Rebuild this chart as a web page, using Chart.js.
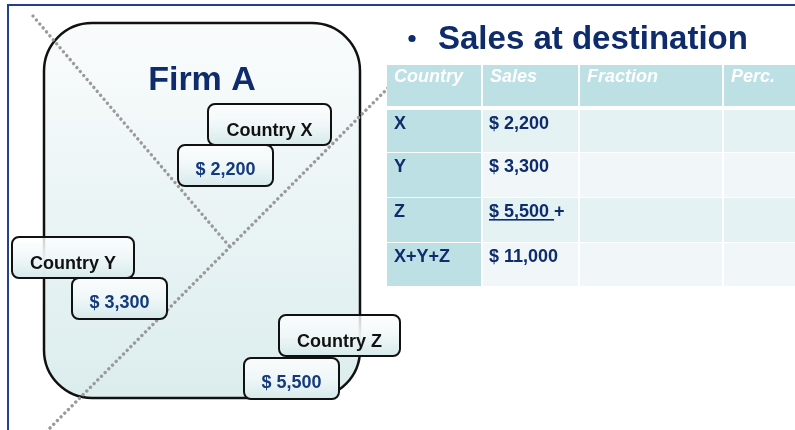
<!DOCTYPE html>
<html>
<head>
<meta charset="utf-8">
<script src="https://cdn.jsdelivr.net/npm/chart.js@4/dist/chart.umd.min.js"></script>
<style>
  html,body{margin:0;padding:0;background:#fff;}
  #wrap{width:795px;height:430px;position:relative;}
</style>
</head>
<body>
<div id="wrap"><canvas id="c"></canvas></div>
<script>
// ---- data ----
const countries = ['X', 'Y', 'Z'];
const countryLabels = ['Country X', 'Country Y', 'Country Z'];
const sales = [2200, 3300, 5500];
const totalLabel = 'X+Y+Z';
const totalSales = 11000;
const tableHeaders = ['Country', 'Sales', 'Fraction', 'Perc.'];
const firmName = 'Firm A';
const titleText = 'Sales at destination';

// ---- layout (positions, sizes, styles) ----
const layout = {
  frame: { left: 8, top: 5, color: '#22418C', width: 2 },
  firm: { x: 44, y: 23, w: 316, h: 375, r: 48 },
  firmText: { x: 202, y: 90 },
  dotted: [[33, 16, 230, 247], [388, 88, 46, 432]],
  nameBoxes: [[208, 104, 123, 41], [12, 237, 122, 41], [279, 315, 121, 41]],
  valueBoxes: [[178, 145, 95, 41], [72, 278, 95, 41], [244, 358, 95, 41]],
  title: { bulletX: 412, bulletY: 38.5, x: 438, y: 49 },
  tableCols: [387, 482, 579, 723, 800],
  tableRows: [[65, 107], [110, 153], [153, 198], [198, 243], [243, 287]]
};
const navy = '#0E2B6C';

const fmt = v => '$ ' + v.toLocaleString('en-US');

function rr(ctx, x, y, w, h, r) {
  ctx.beginPath();
  ctx.moveTo(x + r, y);
  ctx.lineTo(x + w - r, y);
  ctx.arcTo(x + w, y, x + w, y + r, r);
  ctx.lineTo(x + w, y + h - r);
  ctx.arcTo(x + w, y + h, x + w - r, y + h, r);
  ctx.lineTo(x + r, y + h);
  ctx.arcTo(x, y + h, x, y + h - r, r);
  ctx.lineTo(x, y + r);
  ctx.arcTo(x, y, x + r, y, r);
  ctx.closePath();
}

const diagramPlugin = {
  id: 'diagram',
  afterDraw(chart) {
    const ctx = chart.ctx;
    const xs = chart.scales.x, ys = chart.scales.y;
    const X = v => xs.getPixelForValue(v);
    const Y = v => ys.getPixelForValue(v);
    ctx.save();

    // frame
    const f = layout.frame;
    ctx.strokeStyle = f.color; ctx.lineWidth = f.width;
    ctx.beginPath();
    ctx.moveTo(X(f.left), Y(440)); ctx.lineTo(X(f.left), Y(f.top)); ctx.lineTo(X(800), Y(f.top));
    ctx.stroke();

    // firm box
    const fb = layout.firm;
    let g = ctx.createLinearGradient(0, Y(fb.y), 0, Y(fb.y + fb.h));
    g.addColorStop(0, '#FAFCFC'); g.addColorStop(0.5, '#EAF4F5'); g.addColorStop(1, '#DCEDEE');
    rr(ctx, X(fb.x), Y(fb.y), fb.w, fb.h, fb.r);
    ctx.fillStyle = g; ctx.fill();
    ctx.lineWidth = 2.5; ctx.strokeStyle = '#111'; ctx.stroke();

    // firm name
    ctx.fillStyle = navy;
    ctx.font = 'bold 34px "Liberation Sans", Arial, sans-serif';
    ctx.textAlign = 'center'; ctx.textBaseline = 'alphabetic';
    ctx.fillText(firmName, X(layout.firmText.x), Y(layout.firmText.y));

    // dotted lines
    ctx.strokeStyle = '#9A9A9A'; ctx.lineWidth = 3.4; ctx.lineCap = 'round';
    ctx.setLineDash([0.01, 5.2]);
    layout.dotted.forEach(d => {
      ctx.beginPath(); ctx.moveTo(X(d[0]), Y(d[1])); ctx.lineTo(X(d[2]), Y(d[3])); ctx.stroke();
    });
    ctx.setLineDash([]); ctx.lineCap = 'butt';

    // label boxes
    function box(b, text, color, baseOff) {
      const gg = ctx.createLinearGradient(0, Y(b[1]), 0, Y(b[1] + b[3]));
      gg.addColorStop(0, 'rgba(255,255,255,0.8)');
      gg.addColorStop(0.5, 'rgba(240,247,248,0.95)');
      gg.addColorStop(1, '#D6EAEB');
      rr(ctx, X(b[0]), Y(b[1]), b[2], b[3], 7);
      ctx.fillStyle = gg; ctx.fill();
      ctx.lineWidth = 2; ctx.strokeStyle = '#111'; ctx.stroke();
      ctx.fillStyle = color;
      ctx.font = 'bold 18px "Liberation Sans", Arial, sans-serif';
      ctx.textAlign = 'center';
      ctx.fillText(text, X(b[0] + b[2] / 2), Y(b[1] + baseOff));
    }
    countries.forEach((c, i) => {
      box(layout.nameBoxes[i], countryLabels[i], '#111', 32);
      box(layout.valueBoxes[i], fmt(sales[i]), '#143A7E', 30);
    });

    // title
    const t = layout.title;
    ctx.fillStyle = navy;
    ctx.beginPath(); ctx.arc(X(t.bulletX), Y(t.bulletY), 3.6, 0, Math.PI * 2); ctx.fill();
    ctx.font = 'bold 33px "Liberation Sans", Arial, sans-serif';
    ctx.textAlign = 'left';
    ctx.fillText(titleText, X(t.x), Y(t.y));

    // table
    const cols = layout.tableCols, rows = layout.tableRows;
    const bodyRows = countries.map((c, i) => [c, fmt(sales[i]), '', '']);
    bodyRows.push([totalLabel, fmt(totalSales), '', '']);
    rows.forEach((r, ri) => {
      for (let ci = 0; ci < 4; ci++) {
        let fill;
        if (ri === 0 || ci === 0) fill = '#BCE0E3';
        else fill = (ri % 2 === 1) ? '#E5F2F3' : '#F1F7F9';
        ctx.fillStyle = fill;
        const x0 = X(cols[ci]) + (ci > 0 ? 1 : 0), x1 = X(cols[ci + 1]) - 1;
        ctx.fillRect(x0, Y(r[0]), x1 - x0, Y(r[1]) - Y(r[0]) - 1);
      }
    });
    // header text
    ctx.font = 'italic bold 18px "Liberation Sans", Arial, sans-serif';
    ctx.fillStyle = '#FFFFFF';
    tableHeaders.forEach((h, ci) => {
      ctx.fillText(h, X(cols[ci] + (ci === 0 ? 7 : 8)), Y(rows[0][0] + 17));
    });
    // body text
    ctx.font = 'bold 18px "Liberation Sans", Arial, sans-serif';
    ctx.fillStyle = navy;
    bodyRows.forEach((row, i) => {
      const r = rows[i + 1];
      const by = Y(r[0] + 19);
      ctx.fillText(row[0], X(cols[0] + 7), by);
      const sx = X(cols[1] + 7);
      if (i === countries.length - 1) {
        const part = row[1] + ' ';
        ctx.fillText(part, sx, by);
        const w = ctx.measureText(part).width;
        ctx.fillRect(sx, by + 2, w, 1.6);
        ctx.fillText('+', sx + w, by);
      } else {
        ctx.fillText(row[1], sx, by);
      }
    });

    ctx.restore();
  }
};

new Chart(document.getElementById('c'), {
  type: 'scatter',
  data: { datasets: [{ data: [], pointRadius: 0 }] },
  options: {
    responsive: true,
    maintainAspectRatio: false,
    animation: false,
    layout: { padding: 0 },
    plugins: { legend: { display: false }, tooltip: { enabled: false } },
    scales: {
      x: { type: 'linear', min: 0, max: 795, display: false },
      y: { type: 'linear', min: 0, max: 430, reverse: true, display: false }
    }
  },
  plugins: [diagramPlugin]
});
</script>
</body>
</html>
